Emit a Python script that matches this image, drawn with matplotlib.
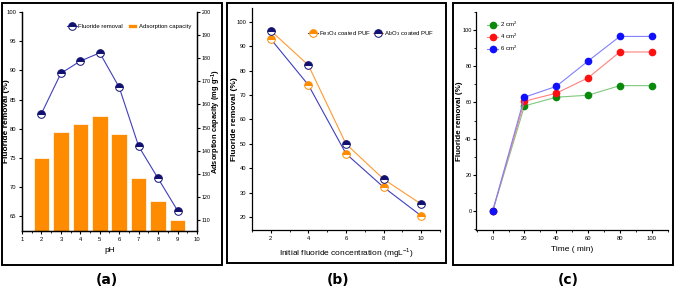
import matplotlib
matplotlib.use("Agg")
import matplotlib.pyplot as plt
from matplotlib.patches import Rectangle
from matplotlib.ticker import MultipleLocator
from matplotlib import font_manager

fams = [f.name for f in font_manager.fontManager.ttflist]
narrow = 'Liberation Sans Narrow' if 'Liberation Sans Narrow' in fams else 'Liberation Sans'
plt.rcParams['font.family'] = [narrow, 'DejaVu Sans']
plt.rcParams['mathtext.fontset'] = 'custom'
plt.rcParams['mathtext.rm'] = narrow
plt.rcParams['mathtext.bf'] = narrow + ':bold'

# ---- data (a)
ph = [2, 3, 4, 5, 6, 7, 8, 9]
ph_removal = [82.6, 89.5, 91.6, 93.0, 87.1, 77.0, 71.5, 66.0]
ph_capacity = [136.7, 148.2, 151.6, 155.0, 147.1, 128.2, 118.2, 110.1]
# ---- data (b)
conc = [2, 4, 6, 8, 10]
fe3o4 = [92.9, 74.1, 46.0, 32.3, 20.6]
al2o3 = [96.3, 82.2, 50.0, 35.6, 25.4]
# ---- data (c)
time = [0, 20, 40, 60, 80, 100]
s2 = [0, 58.1, 62.9, 64.0, 69.3, 69.3]
s4 = [0, 60.7, 65.1, 73.6, 87.9, 87.9]
s6 = [0, 62.9, 68.9, 82.9, 96.5, 96.5]

W, H = 675, 299
fig = plt.figure(figsize=(W/100, H/100), dpi=100)

tfs = 4.2
lfs = 6

def ax_at(l, r, t, b):
    return fig.add_axes([l/W, 1-b/H, (r-l)/W, (b-t)/H])

def box(l, r, t, b):
    fig.patches.append(Rectangle((l/W, 1-b/H), (r-l)/W, (b-t)/H, transform=fig.transFigure,
                                 fill=False, lw=1.4, ec='black'))

def ylab(x, y, s, fs=lfs):
    fig.text(x/W, 1-y/H, s, rotation=90, ha='center', va='center', fontsize=fs,
             fontweight='bold')

box(2, 222, 3, 265)
box(227, 446, 3, 263)
box(453, 673, 3, 265)

def style(ax):
    ax.tick_params(labelsize=tfs, length=2.5, width=0.8, pad=1.5)
    ax.tick_params(which='minor', length=1.5, width=0.6)
    for s in ax.spines.values():
        s.set_linewidth(0.9)

# (a)
ax = ax_at(22, 197, 12, 231)
ax2 = ax.twinx()
ax2.bar(ph, ph_capacity, width=0.8, color='#ff8c00', edgecolor='white', linewidth=0.5,
        bottom=0, label='Adsorption capacity')
ax2.set_ylim(105.2, 200)
ax.set_zorder(ax2.get_zorder()+1)
ax.patch.set_visible(False)
ax.plot(ph, ph_removal, color='#3f3fbf', lw=0.8, marker='o', ms=5.5, fillstyle='top',
        markerfacecolor='#101070', markerfacecoloralt='white', markeredgecolor='#101070',
        markeredgewidth=0.7, label='Fluoride removal')
ax.set_xlim(1, 10)
ax.set_ylim(62.5, 100)
ax.set_xticks(range(1, 11))
ax.xaxis.set_minor_locator(MultipleLocator(0.5))
ax.set_yticks([65, 70, 75, 80, 85, 90, 95, 100])
ax2.set_yticks(range(110, 201, 10))
ax.spines['top'].set_visible(False)
ax2.spines['top'].set_visible(False)
style(ax); style(ax2)
ax2.tick_params(labelsize=3.9, pad=1.0, length=2.2)
ax.set_xlabel('pH', fontsize=lfs, labelpad=4)
ylab(7, 121, 'Fluoride removal (%)')
ylab(216.5, 121, r'Adsorption capacity (mg g$^{\mathbf{-1}}$)', fs=5.4)
h1, l1 = ax.get_legend_handles_labels()
h2, l2 = ax2.get_legend_handles_labels()
ax.legend(h1+h2, l1+l2, ncol=2, loc='upper right', frameon=False, fontsize=4.3,
          bbox_to_anchor=(1.0, 0.97), handlelength=1.6, columnspacing=0.8, handletextpad=0.3)

# (b)
ax = ax_at(252, 440, 8, 230)
ax.plot(conc, fe3o4, color='#3f3fbf', lw=0.8, marker='o', ms=5.5, fillstyle='top',
        markerfacecolor='#ff8c00', markerfacecoloralt='white', markeredgecolor='#ff8c00',
        markeredgewidth=0.7, label='Fe$_3$O$_4$ coated PUF')
ax.plot(conc, al2o3, color='#ff9a30', lw=0.8, marker='o', ms=5.5, fillstyle='top',
        markerfacecolor='#101070', markerfacecoloralt='white', markeredgecolor='#101070',
        markeredgewidth=0.7, label='Al$_2$O$_3$ coated PUF')
ax.set_xlim(1, 11)
ax.set_ylim(14.8, 105.6)
ax.set_xticks([2, 4, 6, 8, 10])
ax.xaxis.set_minor_locator(MultipleLocator(1))
ax.set_yticks(range(20, 101, 10))
ax.spines['top'].set_visible(False)
ax.spines['right'].set_visible(False)
style(ax)
ax.set_xlabel('Initial fluoride concentration (mgL$^{-1}$)', fontsize=lfs, labelpad=4)
ylab(234, 119, 'Fluoride removal (%)')
ax.legend(ncol=2, loc='upper right', frameon=False, fontsize=4.3, bbox_to_anchor=(1.0, 0.93),
          handlelength=1.6, columnspacing=0.3, handletextpad=0.3)

# (c)
ax = ax_at(476, 668, 12, 230)
for ys, mc, lc, lab in [(s2, '#0a8a0a', '#7fc87f', '2 cm$^2$'),
                        (s4, '#ff1010', '#ff8080', '4 cm$^2$'),
                        (s6, '#1010ff', '#8080ff', '6 cm$^2$')]:
    ax.plot(time, ys, color=lc, lw=0.8, marker='o', ms=4.5, markerfacecolor=mc,
            markeredgecolor=mc, label=lab)
ax.set_xlim(-10.5, 110.3)
ax.set_ylim(-10.5, 110)
ax.set_xticks(range(0, 101, 20))
ax.xaxis.set_minor_locator(MultipleLocator(10))
ax.set_yticks(range(0, 101, 20))
ax.yaxis.set_minor_locator(MultipleLocator(10))
ax.spines['top'].set_visible(False)
ax.spines['right'].set_visible(False)
style(ax)
ax.tick_params(axis='y', labelsize=4.0, pad=1.0, length=2.2)
ax.set_xlabel('Time ( min)', fontsize=lfs, labelpad=4)
ylab(459.5, 121, 'Fluoride removal (%)', fs=5.8)
ax.legend(loc='upper left', frameon=False, fontsize=4.3, bbox_to_anchor=(0.03, 0.99),
          handlelength=1.8, handletextpad=0.4, labelspacing=0.5)

for x, t in [(107, '(a)'), (338, '(b)'), (568, '(c)')]:
    fig.text(x/W, 1-280/H, t, ha='center', va='center', fontsize=10, fontweight='bold',
             family='DejaVu Sans')

fig.savefig('out.png', dpi=100)
